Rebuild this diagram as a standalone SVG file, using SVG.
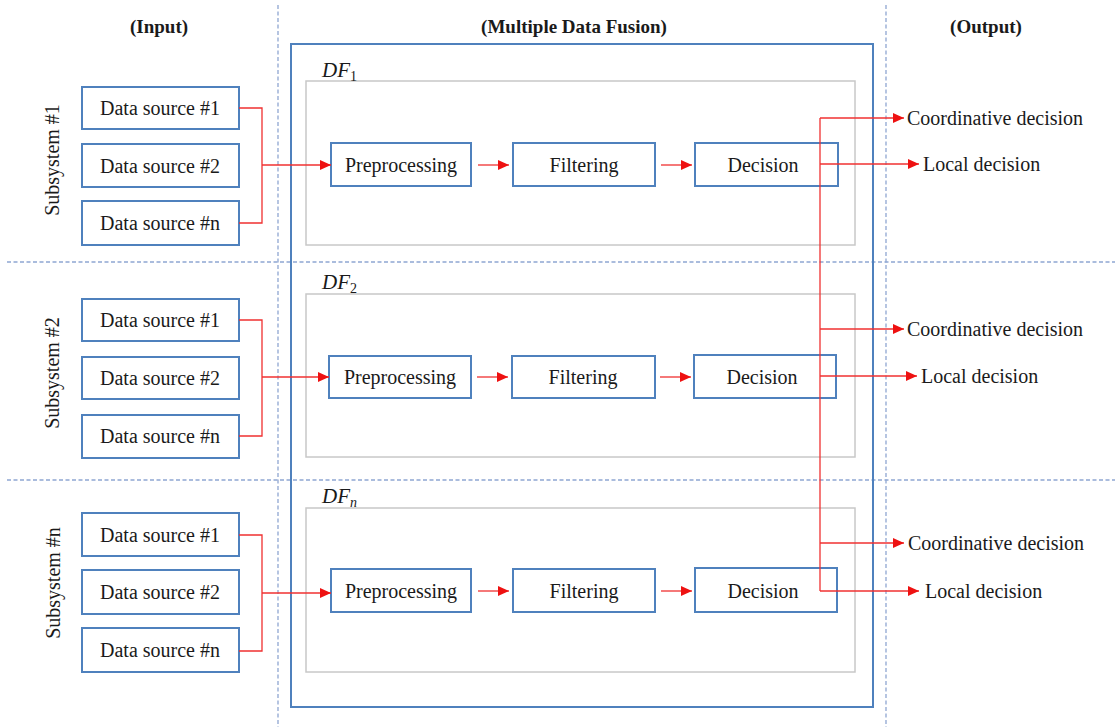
<svg xmlns="http://www.w3.org/2000/svg" width="1115" height="727" viewBox="0 0 1115 727">
  <style>
    text { font-family: "Liberation Serif", serif; fill: #1a1a1a; }
    .hdr { font-weight: bold; font-size: 19px; text-anchor: middle; }
    .lbl { font-size: 20px; text-anchor: middle; }
    .out { font-size: 20px; }
    .df { font-style: italic; font-size: 21px; }
    .sub { font-size: 14px; }
    .blue { fill: #ffffff; stroke: #4f81bd; stroke-width: 2; }
    .frame { fill: none; stroke: #4f81bd; stroke-width: 2; }
    .gray { fill: #ffffff; stroke: #c8c8c8; stroke-width: 1.5; }
    .sep { fill: none; stroke: #8fa6d2; stroke-width: 1.3; stroke-dasharray: 4 2.5; }
    .wire { fill: none; stroke: #f03030; stroke-width: 1.3; }
    .arr { marker-end: url(#head); }
  </style>
  <defs>
    <marker id="head" markerUnits="userSpaceOnUse" markerWidth="11" markerHeight="10" refX="11" refY="5" orient="auto">
      <path d="M0,0 L11,5 L0,10 Z" fill="#ee1111"/>
    </marker>
  </defs>

  <rect width="1115" height="727" fill="#ffffff"/>

  <!-- section separators -->
  <g id="separators">
    <line class="sep" x1="278" y1="5" x2="278" y2="727"/>
    <line class="sep" x1="886" y1="5" x2="886" y2="727"/>
    <line class="sep" x1="7" y1="262" x2="1115" y2="262"/>
    <line class="sep" x1="7" y1="480" x2="1115" y2="480"/>
  </g>

  <!-- column headers -->
  <g id="headers">
    <text class="hdr" x="159" y="33">(Input)</text>
    <text class="hdr" x="574" y="33">(Multiple Data Fusion)</text>
    <text class="hdr" x="986" y="33">(Output)</text>
  </g>

  <!-- fusion frame -->
  <rect id="fusion" class="frame" x="291" y="44" width="582" height="663"/>

  <!-- subsystem 1 -->
  <g id="subsystem1">
    <text class="lbl" transform="translate(59,160) rotate(-90)">Subsystem #1</text>
    <g id="ds1-1"><rect class="blue" x="82" y="87" width="157" height="42"/><text class="lbl" x="160" y="115">Data source #1</text></g>
    <g id="ds1-2"><rect class="blue" x="82" y="144" width="157" height="43"/><text class="lbl" x="160" y="173">Data source #2</text></g>
    <g id="ds1-n"><rect class="blue" x="82" y="201" width="157" height="44"/><text class="lbl" x="160" y="230">Data source #n</text></g>
  </g>
  <g id="df1">
    <rect class="gray" x="306" y="81" width="549" height="164"/>
    <text class="df" x="322" y="77">DF<tspan class="sub" font-style="normal" dy="4">1</tspan></text>
    <g id="pre1"><rect class="blue" x="331" y="143" width="140" height="43"/><text class="lbl" x="401" y="172">Preprocessing</text></g>
    <g id="fil1"><rect class="blue" x="513" y="143" width="142" height="43"/><text class="lbl" x="584" y="172">Filtering</text></g>
    <g id="dec1"><rect class="blue" x="695" y="143" width="143" height="43"/><text class="lbl" x="763" y="172">Decision</text></g>
  </g>

  <!-- subsystem 2 -->
  <g id="subsystem2">
    <text class="lbl" transform="translate(59,373) rotate(-90)">Subsystem #2</text>
    <g id="ds2-1"><rect class="blue" x="82" y="299" width="157" height="42"/><text class="lbl" x="160" y="327">Data source #1</text></g>
    <g id="ds2-2"><rect class="blue" x="82" y="357" width="157" height="42"/><text class="lbl" x="160" y="385">Data source #2</text></g>
    <g id="ds2-n"><rect class="blue" x="82" y="415" width="157" height="43"/><text class="lbl" x="160" y="443">Data source #n</text></g>
  </g>
  <g id="df2">
    <rect class="gray" x="306" y="294" width="549" height="163"/>
    <text class="df" x="322" y="289">DF<tspan class="sub" font-style="normal" dy="4">2</tspan></text>
    <g id="pre2"><rect class="blue" x="329" y="356" width="142" height="42"/><text class="lbl" x="400" y="384">Preprocessing</text></g>
    <g id="fil2"><rect class="blue" x="512" y="356" width="143" height="42"/><text class="lbl" x="583" y="384">Filtering</text></g>
    <g id="dec2"><rect class="blue" x="694" y="355" width="142" height="43"/><text class="lbl" x="762" y="384">Decision</text></g>
  </g>

  <!-- subsystem n -->
  <g id="subsystemN">
    <text class="lbl" transform="translate(60,583) rotate(-90)">Subsystem #n</text>
    <g id="dsn-1"><rect class="blue" x="82" y="513" width="157" height="43"/><text class="lbl" x="160" y="542">Data source #1</text></g>
    <g id="dsn-2"><rect class="blue" x="82" y="570" width="157" height="44"/><text class="lbl" x="160" y="599">Data source #2</text></g>
    <g id="dsn-n"><rect class="blue" x="82" y="628" width="157" height="44"/><text class="lbl" x="160" y="657">Data source #n</text></g>
  </g>
  <g id="dfn">
    <rect class="gray" x="306" y="508" width="549" height="164"/>
    <text class="df" x="322" y="503">DF<tspan class="sub" dy="4">n</tspan></text>
    <g id="pren"><rect class="blue" x="331" y="569" width="140" height="43"/><text class="lbl" x="401" y="598">Preprocessing</text></g>
    <g id="filn"><rect class="blue" x="513" y="569" width="142" height="43"/><text class="lbl" x="584" y="598">Filtering</text></g>
    <g id="decn"><rect class="blue" x="695" y="568" width="142" height="44"/><text class="lbl" x="763" y="598">Decision</text></g>
  </g>

  <!-- outputs -->
  <g id="outputs">
    <text class="out" x="907" y="125">Coordinative decision</text>
    <text class="out" x="923" y="171">Local decision</text>
    <text class="out" x="907" y="336">Coordinative decision</text>
    <text class="out" x="921" y="383">Local decision</text>
    <text class="out" x="908" y="550">Coordinative decision</text>
    <text class="out" x="925" y="598">Local decision</text>
  </g>

  <!-- connectors -->
  <g id="connectors">
    <!-- source merges -->
    <path class="wire" d="M239,108 H262 V223 H239"/>
    <line class="wire arr" x1="262" y1="165" x2="331" y2="165"/>
    <path class="wire" d="M239,320 H262 V436 H239"/>
    <line class="wire arr" x1="262" y1="377" x2="329" y2="377"/>
    <path class="wire" d="M239,535 H262 V651 H239"/>
    <line class="wire arr" x1="262" y1="593" x2="331" y2="593"/>

    <!-- pipeline steps -->
    <line class="wire arr" x1="478" y1="165" x2="509" y2="165"/>
    <line class="wire arr" x1="661" y1="165" x2="692" y2="165"/>
    <line class="wire arr" x1="477" y1="377" x2="508" y2="377"/>
    <line class="wire arr" x1="660" y1="377" x2="691" y2="377"/>
    <line class="wire arr" x1="478" y1="591" x2="509" y2="591"/>
    <line class="wire arr" x1="661" y1="591" x2="692" y2="591"/>

    <!-- decision bus -->
    <line class="wire" x1="820" y1="118" x2="820" y2="591"/>
    <line class="wire arr" x1="820" y1="118" x2="904" y2="118"/>
    <line class="wire arr" x1="820" y1="164" x2="919" y2="164"/>
    <line class="wire arr" x1="820" y1="329" x2="904" y2="329"/>
    <line class="wire arr" x1="820" y1="376" x2="917" y2="376"/>
    <line class="wire arr" x1="820" y1="543" x2="904" y2="543"/>
    <line class="wire arr" x1="820" y1="591" x2="919" y2="591"/>
  </g>
</svg>
